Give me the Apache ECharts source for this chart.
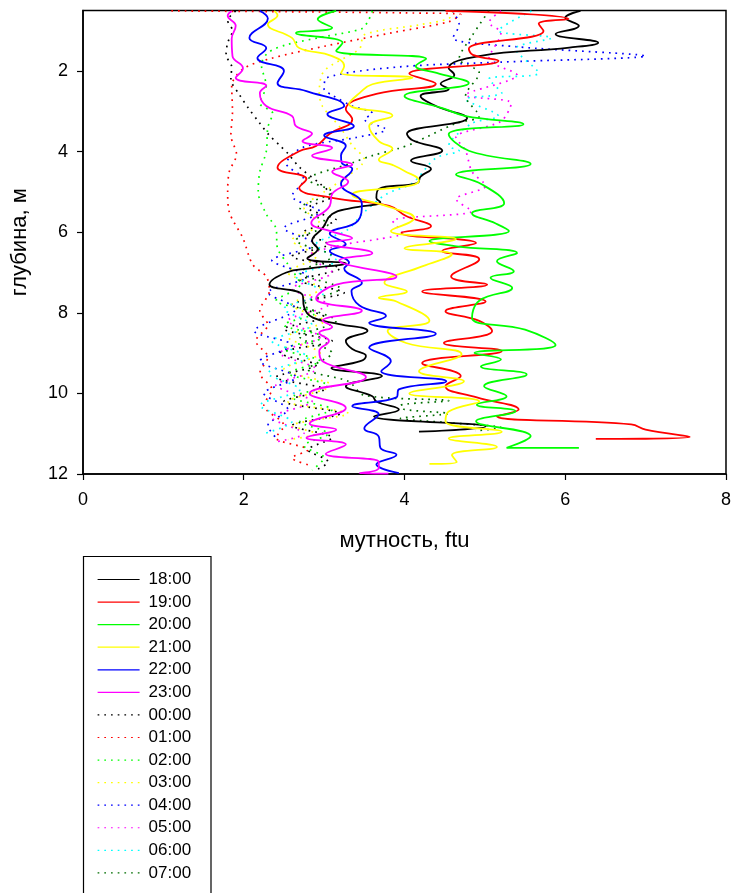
<!DOCTYPE html>
<html>
<head>
<meta charset="utf-8">
<script src="https://cdn.jsdelivr.net/npm/echarts@6/dist/echarts.min.js"></script>
<style>
html,body{margin:0;padding:0;background:#fff;}
#chart{width:734px;height:893px;}
</style>
</head>
<body>
<div id="chart"></div>
<script>
// ---- data: [turbidity (ftu), depth (m)] ----
const hours = ['18:00','19:00','20:00','21:00','22:00','23:00','00:00','01:00','02:00','03:00','04:00','05:00','06:00','07:00'];
const depthTicks = [2, 4, 6, 8, 10, 12];

const s1800 = [[6.19,0.51],[6.0,0.68],[6.17,0.88],[5.88,1.08],[6.41,1.3],[6.05,1.42],[4.93,1.63],[4.55,1.93],[4.62,2.1],[4.45,2.32],[4.55,2.45],[4.2,2.62],[4.39,2.87],[4.78,3.17],[4.03,3.56],[4.1,3.72],[4.47,3.98],[4.08,4.23],[4.33,4.43],[4.2,4.62],[4.16,4.78],[3.68,4.93],[3.65,5.15],[3.7,5.25],[3.35,5.4],[3.1,5.55],[2.98,5.9],[2.85,6.22],[2.92,6.42],[2.79,6.65],[3.27,6.77],[2.82,6.9],[2.53,7.0],[2.32,7.3],[2.73,7.55],[2.75,7.85],[2.86,8.12],[3.19,8.28],[3.54,8.45],[3.27,8.7],[3.35,8.9],[3.52,9.07],[3.45,9.2],[3.09,9.37],[3.72,9.57],[3.27,9.82],[3.6,10.07],[3.65,10.2],[3.93,10.4],[3.62,10.57],[5.01,10.82],[4.18,10.95]];
const s1900 = [[4.51,0.51],[6.04,0.71],[5.67,0.83],[5.73,1.01],[4.8,1.45],[4.85,1.6],[5.17,1.75],[4.06,2.07],[4.39,2.32],[3.65,2.57],[3.27,2.95],[3.35,3.2],[3.07,3.56],[2.9,3.86],[2.69,3.99],[2.42,4.4],[2.78,4.68],[2.69,4.9],[3.1,5.15],[3.81,5.35],[4.02,5.6],[4.33,5.85],[3.96,6.02],[4.89,6.27],[4.47,6.47],[4.93,6.67],[4.58,7.1],[5.03,7.3],[4.22,7.47],[5.01,7.72],[4.51,7.96],[4.93,8.2],[5.09,8.45],[4.49,8.75],[5.21,8.95],[4.22,9.25],[4.7,9.57],[4.51,9.82],[4.9,10.1],[5.42,10.4],[5.15,10.57],[6.82,10.77],[7.0,10.9],[7.55,11.08],[6.38,11.13]];
const s2000 = [[3.15,0.51],[2.92,0.72],[3.1,0.93],[2.65,1.06],[3.23,1.3],[3.15,1.5],[4.27,1.7],[4.14,1.88],[4.4,2.05],[4.8,2.3],[4.0,2.62],[4.47,2.92],[4.76,3.12],[5.48,3.32],[4.55,3.57],[4.8,3.98],[5.57,4.31],[4.64,4.57],[4.96,4.81],[5.24,5.28],[4.84,5.53],[5.13,5.78],[5.3,5.97],[4.31,6.22],[4.65,6.35],[5.4,6.52],[5.15,6.72],[5.36,6.97],[5.07,7.13],[5.34,7.38],[4.93,7.7],[4.84,8.12],[5.5,8.42],[5.88,8.8],[4.87,9.0],[5.2,9.16],[4.95,9.33],[5.52,9.53],[4.99,9.82],[5.27,10.07],[4.9,10.28],[5.38,10.44],[4.89,10.69],[5.57,11.06],[5.27,11.35],[6.17,11.35]];
const s2100 = [[2.38,0.51],[2.42,0.62],[2.3,0.84],[2.6,1.18],[2.69,1.43],[3.1,1.63],[3.25,1.88],[3.21,2.05],[4.1,2.17],[3.6,2.33],[3.44,2.55],[3.31,2.82],[3.85,3.11],[3.56,3.37],[3.68,3.74],[3.85,3.93],[3.68,4.2],[3.85,4.33],[4.0,4.48],[4.18,4.72],[4.1,4.83],[3.35,5.07],[3.85,5.4],[4.12,5.65],[3.83,5.97],[4.64,6.17],[4.0,6.4],[4.59,6.55],[4.22,6.85],[3.75,7.26],[4.03,7.47],[3.68,7.63],[3.9,7.72],[4.31,8.2],[3.79,8.45],[4.02,8.75],[4.71,9.03],[4.18,9.45],[4.74,9.7],[4.06,10.0],[4.93,10.2],[4.55,10.45],[4.51,10.7],[5.21,10.95],[4.55,11.12],[5.15,11.33],[4.59,11.53],[4.65,11.7],[4.31,11.75]];
const s2200 = [[2.2,0.51],[2.3,0.7],[2.07,1.18],[2.28,1.43],[2.17,1.68],[2.5,2.0],[2.42,2.3],[2.78,2.5],[3.25,2.87],[3.04,3.07],[3.37,3.37],[3.0,3.6],[3.27,3.86],[3.21,4.1],[3.22,4.28],[3.35,4.43],[3.21,4.8],[3.47,5.3],[3.42,5.72],[3.07,6.04],[3.27,6.3],[3.07,6.47],[3.31,6.76],[3.25,6.9],[3.47,7.26],[3.34,7.46],[3.44,7.82],[3.77,8.08],[3.56,8.25],[4.39,8.52],[3.56,8.87],[3.83,9.2],[3.71,9.45],[4.52,9.7],[3.93,9.9],[3.9,10.1],[3.35,10.32],[3.68,10.52],[3.5,10.87],[3.68,11.07],[3.7,11.35],[3.9,11.52],[3.65,11.76],[3.93,11.98]];
const s2300 = [[1.85,0.51],[1.8,0.63],[1.9,0.88],[1.85,1.2],[1.86,1.63],[1.99,1.93],[1.9,2.17],[2.28,2.37],[2.2,2.55],[2.28,2.87],[2.6,3.12],[2.65,3.37],[2.85,3.56],[2.73,3.74],[3.1,3.91],[2.85,4.1],[3.35,4.33],[3.1,4.5],[3.3,4.75],[3.1,5.05],[3.07,5.35],[2.84,5.77],[3.07,5.97],[3.35,6.15],[3.03,6.27],[3.6,6.52],[3.19,6.7],[3.9,7.1],[3.15,7.3],[2.9,7.65],[3.47,7.95],[2.98,8.2],[3.1,8.35],[2.94,8.5],[3.06,8.7],[2.94,8.95],[2.98,9.2],[3.52,9.6],[2.82,10.0],[3.27,10.36],[2.82,10.75],[3.15,10.9],[2.78,11.1],[3.27,11.27],[3.02,11.5],[3.68,11.7],[3.68,11.85],[3.44,11.98],[3.8,11.99]];
const s0000 = [[1.9,0.51],[1.8,0.75],[1.86,1.0],[1.8,1.3],[1.78,1.6],[1.85,1.9],[1.84,2.2],[1.95,2.6],[2.05,2.9],[2.2,3.3],[2.32,3.6],[2.45,3.85],[2.55,4.05],[2.7,4.4],[2.95,4.8],[3.1,5.1],[2.8,5.4],[3.15,5.7],[2.75,6.0],[3.05,6.3],[2.6,6.6],[3.2,6.9],[2.7,7.2],[3.25,7.5],[2.6,7.8],[3.0,8.1],[2.5,8.4],[3.1,8.7],[2.45,9.0],[2.9,9.3],[2.4,9.6],[3.0,9.9],[2.5,10.2],[3.2,10.5],[2.6,10.8],[3.1,11.1],[2.8,11.4],[3.05,11.7],[2.9,11.9]];
const s0100 = [[1.1,0.51],[2.5,0.53],[4.0,0.56],[4.7,0.6],[4.55,0.78],[3.85,1.05],[3.02,1.38],[2.32,1.7],[1.99,1.95],[1.85,2.37],[1.86,3.0],[1.84,3.6],[1.91,4.07],[1.82,4.5],[1.8,5.0],[1.82,5.5],[1.99,6.15],[2.11,6.8],[2.28,7.1],[2.32,7.45],[2.2,7.95],[2.3,8.3],[2.15,8.7],[2.3,9.1],[2.2,9.5],[2.35,9.9],[2.25,10.3],[2.5,10.8],[2.4,11.1],[2.8,11.4],[2.6,11.6],[2.85,11.8]];
const s0200 = [[3.6,0.51],[3.55,0.75],[3.47,0.95],[3.0,1.15],[2.53,1.35],[2.3,1.55],[2.22,1.85],[2.28,2.37],[2.2,2.8],[2.36,3.05],[2.3,3.4],[2.28,4.0],[2.2,4.5],[2.18,5.0],[2.28,5.55],[2.4,5.9],[2.42,6.4],[2.55,6.8],[2.7,7.3],[2.4,7.7],[2.9,8.0],[2.5,8.3],[3.0,8.6],[2.5,8.9],[2.95,9.2],[2.55,9.5],[3.05,9.8],[2.6,10.1],[3.1,10.4],[2.7,10.7],[3.05,11.0],[2.75,11.3],[3.0,11.6],[2.85,11.9]];
const s0300 = [[4.6,0.51],[4.55,0.7],[4.2,0.85],[3.5,1.1],[3.44,1.45],[3.0,2.0],[2.94,2.55],[2.98,2.88],[3.2,3.4],[3.35,3.85],[3.5,4.2],[3.3,4.6],[3.0,5.0],[2.75,5.4],[2.95,5.8],[2.6,6.2],[2.9,6.6],[2.55,7.0],[2.95,7.4],[2.6,7.8],[3.0,8.2],[2.55,8.6],[2.95,9.0],[2.5,9.4],[3.1,9.8],[2.55,10.2],[3.3,10.5],[2.6,10.8],[2.9,11.0],[2.55,11.15]];
const s0400 = [[4.6,0.51],[4.68,0.85],[4.6,1.18],[5.4,1.4],[7.0,1.63],[5.2,1.78],[3.93,1.9],[3.03,2.17],[3.0,2.45],[3.1,2.6],[3.35,2.87],[3.6,3.05],[3.5,3.2],[3.77,3.45],[3.4,3.65],[2.73,3.9],[2.53,4.3],[2.75,4.7],[2.6,5.1],[2.95,5.5],[2.5,5.9],[2.9,6.3],[2.35,6.7],[2.8,7.1],[2.3,7.5],[2.65,7.9],[2.13,8.45],[2.6,8.8],[2.2,9.2],[2.65,9.6],[2.25,10.0],[2.55,10.4],[2.3,10.8],[2.4,11.1]];
const s0500 = [[5.2,0.51],[5.05,0.8],[5.2,1.05],[5.05,1.7],[5.4,2.1],[4.76,2.6],[5.33,2.8],[5.2,3.25],[4.64,3.65],[4.76,3.98],[4.84,4.5],[5.01,4.85],[4.64,5.18],[4.84,5.48],[3.85,5.72],[3.97,6.02],[3.68,6.17],[3.27,6.3],[2.8,6.6],[3.1,7.0],[2.6,7.4],[3.05,7.8],[2.55,8.2],[2.95,8.6],[2.45,9.0],[2.9,9.4],[2.4,9.8],[2.85,10.2],[2.35,10.6],[2.75,11.0],[2.4,11.2]];
const s0600 = [[5.58,0.51],[5.17,1.0],[5.83,1.18],[5.38,1.45],[5.67,2.05],[5.05,2.2],[5.21,2.55],[4.76,2.7],[5.17,3.12],[4.84,3.3],[4.55,3.86],[4.68,3.98],[4.39,4.16],[4.1,4.78],[3.77,5.06],[3.5,5.5],[3.27,5.97],[2.9,6.3],[3.15,6.7],[2.65,7.1],[3.0,7.5],[2.5,7.9],[2.85,8.3],[2.35,8.7],[2.8,9.1],[2.3,9.5],[2.7,9.9],[2.2,10.3],[2.6,10.7],[2.25,11.0]];
const s0700 = [[5.05,0.51],[4.84,1.13],[4.68,1.7],[4.93,2.05],[4.76,2.62],[4.93,3.12],[4.64,3.3],[4.1,3.8],[3.93,3.92],[3.6,4.1],[3.35,4.28],[2.8,4.7],[3.1,5.0],[2.7,5.4],[3.05,5.8],[2.65,6.2],[3.1,6.6],[2.7,7.0],[3.2,7.4],[2.75,7.8],[3.15,8.2],[2.7,8.6],[3.1,9.0],[2.8,9.4],[3.3,9.7],[3.5,10.05],[4.55,10.18],[3.95,10.3],[4.0,10.4],[4.55,10.5],[3.95,10.62],[4.5,10.72],[5.2,10.85],[4.88,10.93]];

const seriesData = [s1800,s1900,s2000,s2100,s2200,s2300,s0000,s0100,s0200,s0300,s0400,s0500,s0600,s0700];
const colors = ['#000000','#ff0000','#00ff00','#ffff00','#0000ff','#ff00ff','#000000','#ff0000','#00ff00','#ffff00','#0000ff','#ff00ff','#00ffff','#006e00'];

const FONT = '"Liberation Sans", Arial, sans-serif';
const chart = echarts.init(document.getElementById('chart'), null, {renderer: 'canvas'});

const series = seriesData.map((d, i) => {
  const dotted = i >= 6;
  return {
    name: hours[i],
    type: 'line',
    data: d,
    symbol: 'none',
    smooth: dotted ? 0.3 : 0.45,
    animation: false,
    z: dotted ? 2 : 3,
    lineStyle: {
      color: colors[i],
      width: dotted ? 1.7 : 1.8,
      type: dotted ? [1.7, 5] : 'solid'
    },
    itemStyle: {color: colors[i]}
  };
});

chart.setOption({
  animation: false,
  backgroundColor: '#ffffff',
  grid: {left: 83, right: 6, top: 10.5, bottom: 419, show: true, borderColor: '#000', borderWidth: 1.5, backgroundColor: 'transparent'},
  xAxis: {
    type: 'value', min: 0, max: 8, interval: 2,
    name: 'мутность, ftu', nameLocation: 'middle', nameGap: 56,
    nameTextStyle: {fontFamily: FONT, fontSize: 22, color: '#000'},
    axisLine: {show: true, onZero: false, lineStyle: {color: '#000', width: 1.5}},
    axisTick: {show: true, inside: false, length: 6, lineStyle: {color: '#000', width: 1.2}},
    axisLabel: {fontFamily: FONT, fontSize: 18, color: '#000', margin: 17},
    splitLine: {show: false}
  },
  yAxis: {
    type: 'value', min: 0.5, max: 12, inverse: true,
    name: 'глубина, м', nameLocation: 'middle', nameGap: 52, nameRotate: 90,
    nameTextStyle: {fontFamily: FONT, fontSize: 22, color: '#000'},
    axisLine: {show: true, onZero: false, lineStyle: {color: '#000', width: 1.5}},
    axisTick: {show: true, inside: false, length: 6, customValues: depthTicks, lineStyle: {color: '#000', width: 1.2}},
    axisLabel: {fontFamily: FONT, fontSize: 18, color: '#000', margin: 15, customValues: depthTicks},
    splitLine: {show: false}
  },
  legend: {
    orient: 'vertical', left: 97, top: 571, padding: 0,
    itemWidth: 42, itemHeight: 14, itemGap: 5.57,
    itemStyle: {opacity: 0},
    lineStyle: {width: 1.2},
    textStyle: {fontFamily: FONT, fontSize: 17, color: '#000', lineHeight: 17, padding: [0, 0, 0, 4]},
    data: hours
  },
  graphic: [{
    type: 'rect', silent: true, z: 0,
    shape: {x: 83.5, y: 556.5, width: 127.5, height: 400},
    style: {fill: 'none', stroke: '#000', lineWidth: 1.2}
  }],
  series: series
});
</script>
</body>
</html>
